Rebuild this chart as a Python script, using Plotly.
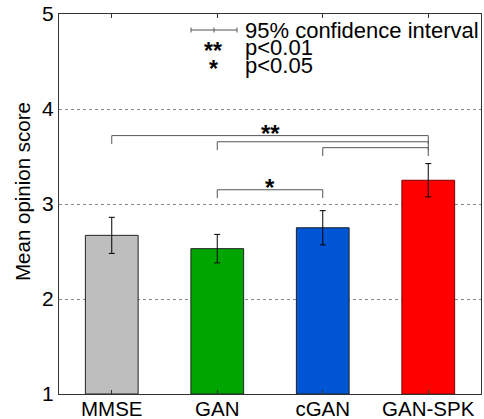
import plotly.graph_objects as go

categories = ["MMSE", "GAN", "cGAN", "GAN-SPK"]
mos = [2.67, 2.53, 2.75, 3.25]
ci95 = [0.19, 0.15, 0.18, 0.175]
bar_colors = ["#BEBEBE", "#00A500", "#0055D4", "#FF0000"]
edge_colors = ["#222222", "#222222", "#222222", "#7A0000"]
y_ticks = [1, 2, 3, 4, 5]
y_title = "Mean opinion score"

# significance brackets: (from index, to index, level, label)
brackets = [
    (0, 3, 3.72, "**"),
    (1, 3, 3.655, ""),
    (2, 3, 3.593, ""),
    (1, 2, 3.15, "*"),
]
leg_drop = 0.088

FONT = "Liberation Sans, Arial, sans-serif"
xpos = [i + 1 for i in range(len(categories))]

W, H = 484, 419
PL, PT, PW, PH = 59, 14, 422, 380

fig = go.Figure()
fig.add_trace(go.Bar(
    x=xpos, y=[m - 1 for m in mos], base=1, width=0.5,
    marker=dict(color=bar_colors, line=dict(color=edge_colors, width=1)),
    error_y=dict(type="data", array=ci95, color="black", thickness=1, width=3),
    showlegend=False, hoverinfo="skip",
))

shapes = []
annotations = []
for i0, i1, lvl, lab in brackets:
    x0, x1 = xpos[i0], xpos[i1]
    shapes.append(dict(
        type="path", xref="x", yref="y",
        path=f"M {x0},{lvl - leg_drop} L {x0},{lvl} L {x1},{lvl} L {x1},{lvl - leg_drop}",
        line=dict(color="#555555", width=1),
    ))
    if lab:
        annotations.append(dict(
            x=(x0 + x1) / 2, y=lvl, xref="x", yref="y", text=f"<b>{lab}</b>",
            showarrow=False, yanchor="bottom", yshift=-13.5,
            font=dict(family=FONT, size=24, color="black"),
        ))

# legend (drawn manually, paper coords; arguments are pixels)
def px(xp):
    return (xp - PL) / PW

def py(yp):
    return (PT + PH - yp) / PH

ly = py(30)
shapes.append(dict(type="line", xref="paper", yref="paper", x0=px(191), x1=px(237), y0=ly, y1=ly,
                   line=dict(color="#555555", width=1)))
for xx in (191, 214, 237):
    shapes.append(dict(type="line", xref="paper", yref="paper", x0=px(xx), x1=px(xx),
                       y0=py(32.5), y1=py(27.5), line=dict(color="#555555", width=1)))
legend_items = [
    (30, "", "95% confidence interval"),
    (47, "**", "p<0.01"),
    (65, "*", "p<0.05"),
]
for yy, sym, txt in legend_items:
    annotations.append(dict(x=px(243), y=py(yy), xref="paper", yref="paper", text=txt,
                            showarrow=False, xanchor="left", yanchor="middle",
                            font=dict(family=FONT, size=22, color="black")))
    if sym:
        annotations.append(dict(x=px(213), y=py(yy), xref="paper", yref="paper", text=f"<b>{sym}</b>",
                                showarrow=False, xanchor="center", yanchor="middle", yshift=-4,
                                font=dict(family=FONT, size=23, color="black")))

# y-axis title
annotations.append(dict(x=px(22), y=py(192), xref="paper", yref="paper", text=y_title,
                        textangle=-90, showarrow=False, xanchor="center", yanchor="middle",
                        font=dict(family=FONT, size=20.5, color="black")))

fig.update_layout(
    width=W, height=H,
    margin=dict(l=PL, r=W - PL - PW, t=PT, b=H - PT - PH),
    plot_bgcolor="white", paper_bgcolor="white",
    font=dict(family=FONT, size=21, color="black"),
    bargap=0.5, hovermode=False,
    shapes=shapes, annotations=annotations,
    xaxis=dict(range=[0.5, 4.5], tickvals=xpos, ticktext=categories, automargin=False,
               showline=True, linecolor="#333333", linewidth=1, mirror="ticks",
               ticks="inside", ticklen=4, tickcolor="#333333", showgrid=False,
               zeroline=False, tickfont=dict(size=20.5), ticklabelstandoff=-4),
    yaxis=dict(range=[1, 5], tickvals=y_ticks, showline=True, linecolor="#333333",
               linewidth=1, mirror=True, ticks="", showgrid=True, gridcolor="#888888",
               griddash="dot", gridwidth=1, zeroline=False, tickfont=dict(size=21),
               automargin=False, ticklabelstandoff=0),
)

fig.write_html(
    "out.html",
    config={"displayModeBar": False, "staticPlot": True},
    post_script="document.body.style.margin='0';document.body.style.overflow='hidden';",
)
